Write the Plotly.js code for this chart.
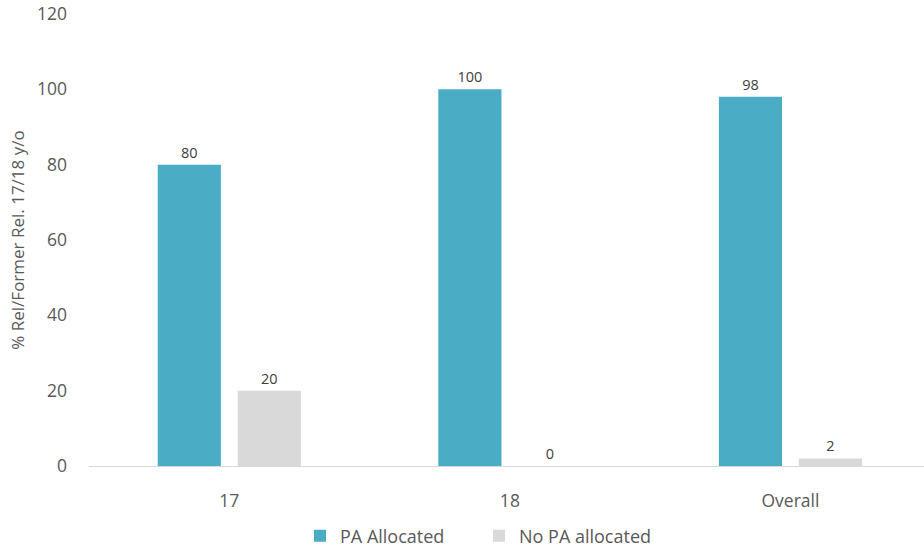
<!DOCTYPE html>
<html>
<head>
<meta charset="utf-8">
<script src="https://cdn.plot.ly/plotly-3.0.1.min.js"></script>
<style>html,body{margin:0;padding:0;background:#fff;}#chart{width:924px;height:547px;}</style>
</head>
<body>
<div id="chart"></div>
<script>
const categories = ["17", "18", "Overall"];
const paAllocated = [80, 100, 98];
const noPaAllocated = [20, 0, 2];
const seriesNames = ["PA Allocated", "No PA allocated"];
const yTicks = [0, 20, 40, 60, 80, 100, 120];

const fontFam = "'Open Sans', 'Noto Sans', sans-serif";
const traces = [
  {type: "bar", name: seriesNames[0], x: categories, y: paAllocated,
   marker: {color: "#4BACC6"}, text: paAllocated.map(String), textposition: "outside",
   textfont: {size: 14.5, color: "#404040", family: fontFam}, cliponaxis: false, hoverinfo: "none"},
  {type: "bar", name: seriesNames[1], x: categories, y: noPaAllocated,
   marker: {color: "#D9D9D9"}, text: noPaAllocated.map(String), textposition: "outside",
   textfont: {size: 14.5, color: "#404040", family: fontFam}, cliponaxis: false, hoverinfo: "none"}
];
const layout = {
  width: 924, height: 547,
  margin: {l: 89, r: 0, t: 14, b: 81},
  paper_bgcolor: "#fff", plot_bgcolor: "#fff",
  font: {family: fontFam, color: "#595959", size: 17},
  barmode: "group", bargap: 0.43, bargroupgap: 0.21,
  showlegend: true,
  legend: {orientation: "h", xref: "container", x: 300 / 924, xanchor: "left", yref: "container", y: 0.02, yanchor: "middle",
           font: {size: 18, color: "#595959"}, itemwidth: 30, entrywidth: 134, traceorder: "normal", tracegroupgap: 0},
  xaxis: {type: "category", range: [-0.5, 2.476], showgrid: false, showline: true, linecolor: "#D9D9D9", linewidth: 1,
          ticks: "", tickfont: {size: 17.5, color: "#595959"}, ticklabelstandoff: 19, zeroline: false},
  yaxis: {range: [0, 120], tickvals: yTicks, showgrid: false, zeroline: false, showline: false,
          tickfont: {size: 17.5, color: "#595959"}, ticklabelstandoff: 21,
          title: {text: "% Rel/Former Rel. 17/18 y/o", font: {size: 17, color: "#595959"}, standoff: 8}}
};
Plotly.newPlot("chart", traces, layout, {displayModeBar: false, staticPlot: true});
</script>
</body>
</html>
